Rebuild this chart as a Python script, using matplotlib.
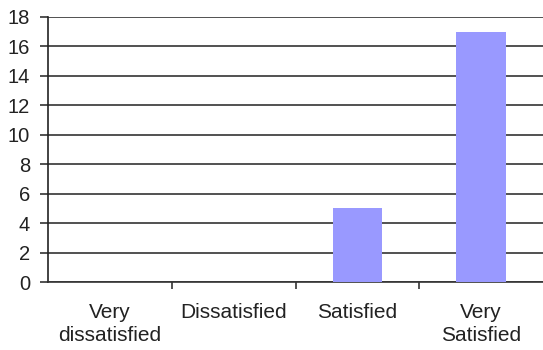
import matplotlib
matplotlib.use("Agg")
import matplotlib.pyplot as plt
import numpy as np

categories = ["Very\ndissatisfied", "Dissatisfied", "Satisfied", "Very\nSatisfied"]
values = [0, 0, 5, 17]
yticks = [0, 2, 4, 6, 8, 10, 12, 14, 16, 18]

plt.rcParams['font.family'] = ['Liberation Sans', 'DejaVu Sans']

fig = plt.figure(figsize=(5.43, 3.5), dpi=100)
ax = fig.add_axes([48/543, 1-282/350, 1-48/543, (282-17)/350])

x = np.arange(len(categories))
ax.bar(x, values, width=0.4, color='#9999FF', zorder=3)

ax.set_xlim(-0.5, len(categories) - 0.5)
ax.set_ylim(0, 18)
ax.set_yticks(yticks)
ax.set_yticklabels([str(v) for v in yticks], fontsize=14.5, color='#222222')
for v in yticks:
    ax.axhline(v, color='#333333', lw=1.2, zorder=1)

ax.set_xticks(np.arange(0.5, len(categories) - 1, 1.0))
ax.set_xticklabels([])
ax.set_xticks(x, minor=True)
ax.set_xticklabels(categories, minor=True, fontsize=15, linespacing=1.3, va='top', color='#222222')
ax.tick_params(axis='x', which='minor', length=0, pad=15)
ax.tick_params(axis='x', which='major', length=5, width=1.2, color='#333333', direction='out')
ax.tick_params(axis='y', length=6, width=1.2, color='#333333', direction='out', pad=7)

for s in ['top', 'right']:
    ax.spines[s].set_visible(False)
ax.spines['left'].set_color('#222222')
ax.spines['left'].set_linewidth(1.2)
ax.spines['bottom'].set_color('#333333')
ax.spines['bottom'].set_linewidth(1.2)

fig.savefig("out.png", dpi=100)
